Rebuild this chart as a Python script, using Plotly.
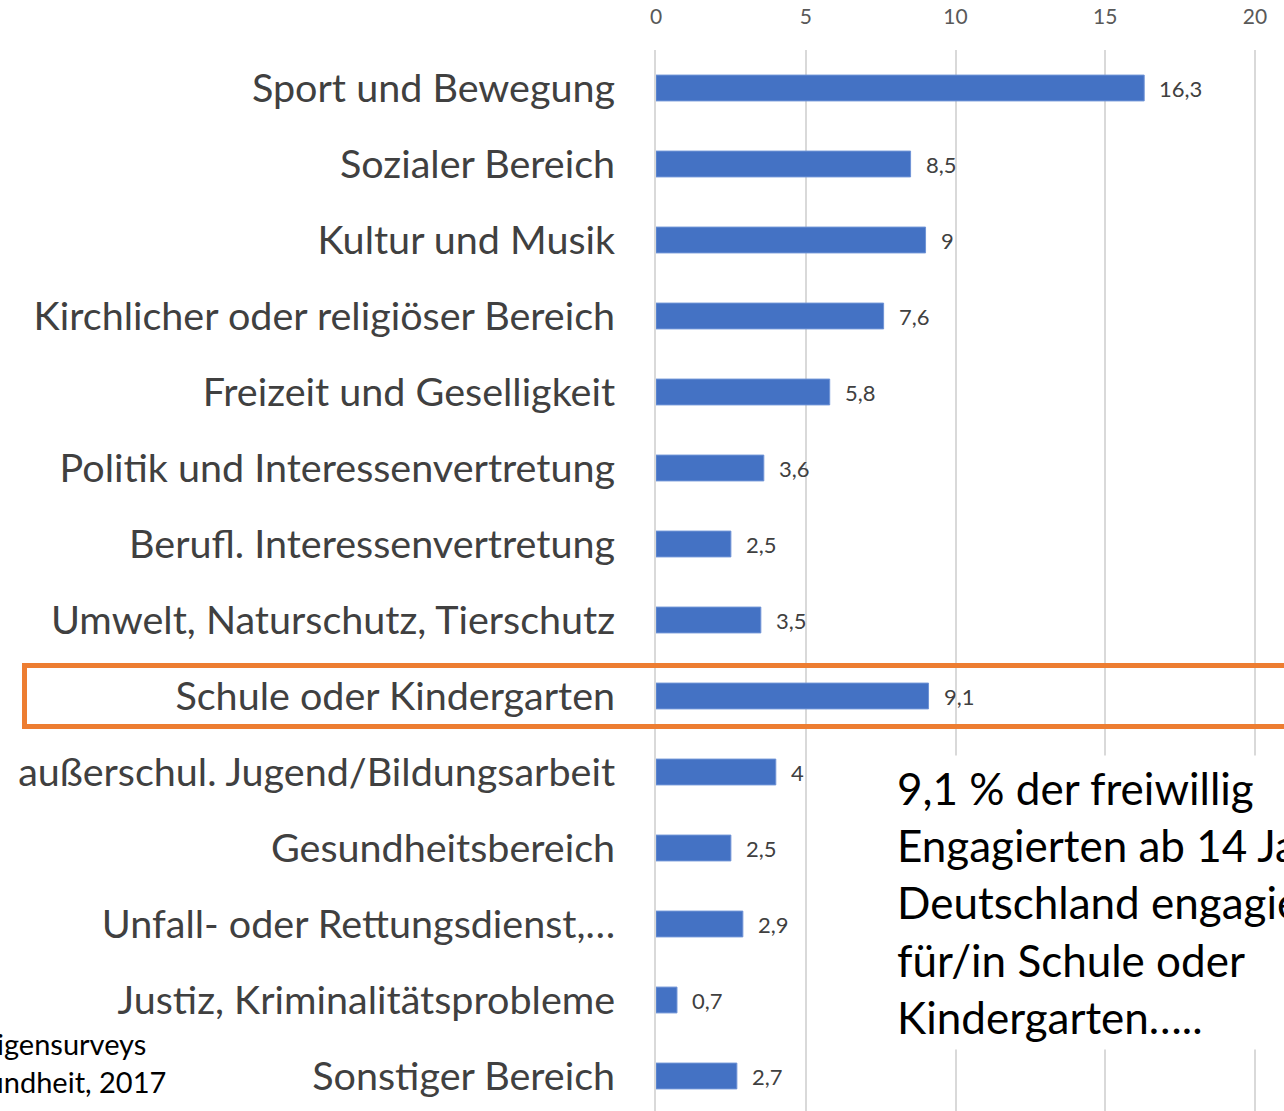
import plotly.graph_objects as go

categories = [
    "Sport und Bewegung",
    "Sozialer Bereich",
    "Kultur und Musik",
    "Kirchlicher oder religiöser Bereich",
    "Freizeit und Geselligkeit",
    "Politik und Interessenvertretung",
    "Berufl. Interessenvertretung",
    "Umwelt, Naturschutz, Tierschutz",
    "Schule oder Kindergarten",
    "außerschul. Jugend/Bildungsarbeit",
    "Gesundheitsbereich",
    "Unfall- oder Rettungsdienst,…",
    "Justiz, Kriminalitätsprobleme",
    "Sonstiger Bereich",
]
values = [16.3, 8.5, 9, 7.6, 5.8, 3.6, 2.5, 3.5, 9.1, 4, 2.5, 2.9, 0.7, 2.7]
x_ticks = [0, 5, 10, 15, 20]
highlight = "Schule oder Kindergarten"

FONT = "Lato"
W, H = 1284, 1111
L, T = 656, 50

def lbl(v):
    s = f"{v:g}"
    return s.replace(".", ",")

fig = go.Figure()
fig.add_trace(go.Bar(
    x=values, y=categories, orientation="h",
    marker=dict(color="#4472C4", line=dict(color="#6f93d6", width=1)),
    width=0.34, hoverinfo="skip",
))

for c, v in zip(categories, values):
    fig.add_annotation(x=v, y=c, text=lbl(v), showarrow=False, xanchor="left",
                       xshift=13, font=dict(family=FONT, size=22, color="#404040"))

hi = categories.index(highlight)
fig.add_shape(type="rect", xref="paper", yref="y",
              x0=(24.5 - L) / (W - L), x1=(1300 - L) / (W - L),
              y0=hi - 0.4, y1=hi + 0.4,
              line=dict(color="#ED7D31", width=5), layer="above")

fig.add_annotation(xref="paper", yref="paper",
                   x=(890 - L) / (W - L), y=1 - (755 - T) / (H - T),
                   xanchor="left", yanchor="top", align="left", showarrow=False,
                   bgcolor="white", borderpad=6,
                   text="9,1 % der freiwillig<br>Engagierten ab 14 Jahren in<br>Deutschland engagieren sich<br>für/in Schule oder<br>Kindergarten…..",
                   font=dict(family=FONT, size=44, color="#000000"))

fig.add_annotation(xref="paper", yref="paper",
                   x=(148 - L) / (W - L), y=1 - (1043 - T) / (H - T),
                   xanchor="right", yanchor="middle", showarrow=False,
                   text="Hauptbericht des Deutschen Freiwilligensurveys",
                   font=dict(family=FONT, size=29, color="#000000"))
fig.add_annotation(xref="paper", yref="paper",
                   x=(168 - L) / (W - L), y=1 - (1081 - T) / (H - T),
                   xanchor="right", yanchor="middle", showarrow=False,
                   text="Bundesministerium für Gesundheit, 2017",
                   font=dict(family=FONT, size=29, color="#000000"))

fig.update_layout(
    width=W, height=H,
    margin=dict(l=L, r=0, t=T, b=0, pad=0),
    paper_bgcolor="white", plot_bgcolor="white",
    showlegend=False,
    xaxis=dict(side="top", range=[0, (W - L) / 29.95], tickvals=x_ticks,
               showgrid=True, gridcolor="#d9d9d9", gridwidth=2,
               zeroline=False, showline=False,
               tickfont=dict(family=FONT, size=21, color="#595959"),
               ticks="outside", ticklen=8, tickcolor="rgba(0,0,0,0)",
               ticklabelstandoff=9),
    yaxis=dict(range=[-0.5 + (H - T) / 76, -0.5], categoryorder="array",
               categoryarray=categories, showgrid=False, zeroline=False,
               showline=True, linecolor="#d9d9d9", linewidth=2,
               ticks="outside", ticklen=31, tickcolor="rgba(0,0,0,0)",
               tickfont=dict(family=FONT, size=39.5, color="#404040")),
)

fig.write_html("out.html", config={"displayModeBar": False},
               post_script="document.body.style.margin='0';")
